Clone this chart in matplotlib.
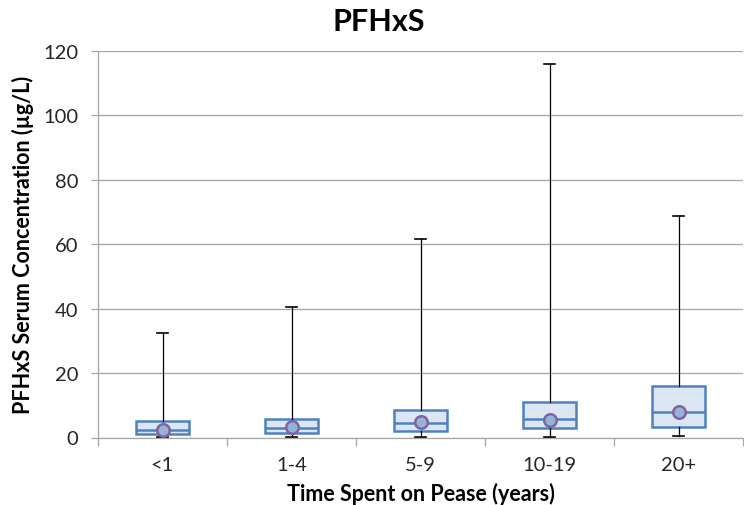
import matplotlib.pyplot as plt
from matplotlib.ticker import FixedLocator, NullFormatter

plt.rcParams['font.family'] = ['Lato', 'DejaVu Sans']

# PFHxS serum concentration by years spent on Pease
groups = ['<1', '1-4', '5-9', '10-19', '20+']
minimum = [0.3, 0.3, 0.2, 0.2, 0.6]
q1 = [1.1, 1.4, 2.0, 2.9, 3.4]
median = [2.2, 3.0, 4.5, 5.8, 7.9]
mean = [2.3, 3.2, 4.7, 5.5, 7.9]
q3 = [5.0, 5.8, 8.5, 11.1, 16.1]
maximum = [32.5, 40.5, 61.5, 116.0, 68.7]

box_edge = '#4f81bd'
box_fill = '#dce6f2'
grid_col = '#a6a6a6'
text_col = '#262626'

stats = []
for i, g in enumerate(groups):
    stats.append({'label': g, 'whislo': minimum[i], 'q1': q1[i], 'med': median[i],
                  'q3': q3[i], 'whishi': maximum[i], 'mean': mean[i], 'fliers': []})

fig = plt.figure(figsize=(7.44, 5.06), dpi=100)
ax = fig.add_axes([98 / 744, 1 - 438.5 / 506, 645 / 744, (438.5 - 52) / 506])

ax.bxp(stats, positions=range(len(groups)), widths=0.41, showmeans=True,
       patch_artist=True, showfliers=False,
       boxprops=dict(facecolor=box_fill, edgecolor=box_edge, linewidth=1.8),
       medianprops=dict(color=box_edge, linewidth=1.8),
       whiskerprops=dict(color='black', linewidth=0.9),
       capprops=dict(color='black', linewidth=1.2),
       capwidths=0.09,
       meanprops=dict(marker='o', markerfacecolor='#95b3d7', markeredgecolor='#8064a2',
                      markeredgewidth=1.8, markersize=9),
       zorder=3)

ax.set_xlim(-0.5, len(groups) - 0.5)
ax.set_ylim(0, 120)
ax.set_yticks(range(0, 121, 20))
ax.yaxis.grid(True, color=grid_col, linewidth=0.9)
ax.set_axisbelow(True)

ax.set_xticks(range(len(groups)))
ax.set_xticklabels(groups)
ax.xaxis.set_minor_locator(FixedLocator([i - 0.5 for i in range(len(groups) + 1)]))
ax.xaxis.set_minor_formatter(NullFormatter())
ax.tick_params(axis='x', which='major', length=0, pad=13, labelsize=14.5, labelcolor=text_col)
ax.tick_params(axis='x', which='minor', length=6, color=grid_col, width=0.9)
ax.tick_params(axis='y', length=5, color=grid_col, width=0.9, labelsize=14.5,
               labelcolor=text_col, pad=9)

for side in ['top', 'right']:
    ax.spines[side].set_visible(False)
for side in ['left', 'bottom']:
    ax.spines[side].set_color(grid_col)
    ax.spines[side].set_linewidth(0.9)

ax.set_xlabel('Time Spent on Pease (years)', fontsize=15.5, fontweight='bold', va='center')
ax.xaxis.set_label_coords(0.5, (438.5 - 494) / 386.5)
ax.set_ylabel('PFHxS Serum Concentration (µg/L)', fontsize=15.5, fontweight='bold', va='center')
ax.yaxis.set_label_coords((23 - 98) / 645, 0.5)
fig.text(379 / 744, 1 - 22 / 506, 'PFHxS', ha='center', va='center', fontsize=22, fontweight='bold')

fig.savefig('out.png', dpi=100)
